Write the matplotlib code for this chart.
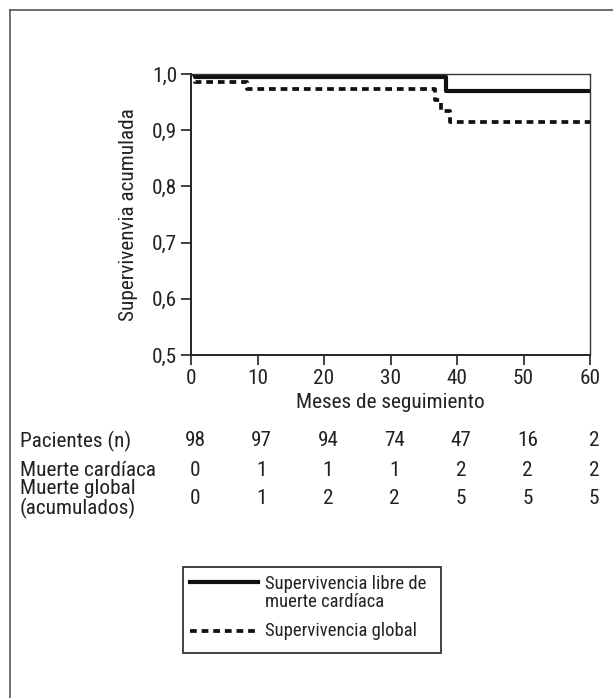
import matplotlib
matplotlib.use("Agg")
import matplotlib.pyplot as plt
from matplotlib.lines import Line2D
from matplotlib.patches import Rectangle
from matplotlib.transforms import blended_transform_factory

plt.rcParams["font.family"] = ["Roboto Condensed", "Liberation Sans Narrow",
                               "Liberation Sans", "DejaVu Sans"]

# Kaplan-Meier curves
cardiac_t = [0, 0.6, 38.4, 60]
cardiac_s = [1.0, 0.995, 0.969, 0.969]
global_t = [0, 0.6, 8.4, 36.7, 37.6, 39.0, 60]
global_s = [1.0, 0.986, 0.974, 0.953, 0.935, 0.914, 0.914]

# table under the x axis
months = [0, 10, 20, 30, 40, 50, 60]
pacientes = [98, 97, 94, 74, 47, 16, 2]
muerte_cardiaca = [0, 1, 1, 1, 2, 2, 2]
muerte_global = [0, 1, 2, 2, 5, 5, 5]

yticks = [0.5, 0.6, 0.7, 0.8, 0.9, 1.0]

W, H = 613, 698
fs = 15.3
fs_leg = 13.4
txt = "#222222"
fig = plt.figure(figsize=(W / 100, H / 100), dpi=100)
ax = fig.add_axes([191 / W, 1 - 355 / H, (590 - 191) / W, (355 - 74) / H])

ax.step(cardiac_t, cardiac_s, where="post", color="#111111", lw=3.0,
        solid_capstyle="butt")
ax.step(global_t, global_s, where="post", color="#111111", lw=2.7,
        linestyle=(0, (1.8, 1.3)))

ax.set_xlim(0, 60)
ax.set_ylim(0.5, 1.0)
ax.set_xticks(months)
ax.set_yticks(yticks)
ax.set_yticklabels([f"{v:.1f}".replace(".", ",") for v in yticks])
ax.tick_params(direction="out", length=7, width=1.2, labelsize=fs,
               colors=txt, pad=3)
for s in ["left", "bottom"]:
    ax.spines[s].set_linewidth(1.4)
    ax.spines[s].set_color("#222222")
for s in ["top", "right"]:
    ax.spines[s].set_linewidth(1.0)
    ax.spines[s].set_color("#333333")

ax.set_xlabel("Meses de seguimiento", fontsize=fs, color=txt, labelpad=4)
ax.set_ylabel("Supervivenvia acumulada", fontsize=fs, color=txt, labelpad=10)

# numbers at risk / events
tr = blended_transform_factory(ax.transData, fig.transFigure)
rows = [(pacientes, 441), (muerte_cardiaca, 470), (muerte_global, 499)]
for vals, ypx in rows:
    for m, v in zip(months, vals):
        ax.text(m + 0.6, 1 - ypx / H, str(v), transform=tr, ha="center",
                va="center", fontsize=fs, color=txt, clip_on=False)

fig.text(20 / W, 1 - 441 / H, "Pacientes (n)", ha="left", va="center",
         fontsize=fs, color=txt)
fig.text(20 / W, 1 - 470 / H, "Muerte cardíaca", ha="left", va="center",
         fontsize=fs, color=txt)
fig.text(20 / W, 1 - 499 / H, "Muerte global\n(acumulados)", ha="left",
         va="center", fontsize=fs, color=txt, linespacing=1.0)

# legend box
fig.add_artist(Rectangle((183 / W, 1 - 653 / H), (441 - 183) / W, (653 - 567) / H,
                         transform=fig.transFigure, fill=False,
                         edgecolor="#333333", lw=1.3))
fig.add_artist(Line2D([190 / W, 258 / W], [1 - 582 / H] * 2, color="#111111",
                      lw=3.0, transform=fig.transFigure))
fig.add_artist(Line2D([190 / W, 258 / W], [1 - 631 / H] * 2, color="#111111",
                      lw=2.7, linestyle=(0, (1.8, 1.3)),
                      transform=fig.transFigure))
fig.text(265 / W, 1 - 593 / H, "Supervivencia libre de\nmuerte cardíaca",
         ha="left", va="center", fontsize=fs_leg, color=txt, linespacing=0.98)
fig.text(265 / W, 1 - 631 / H, "Supervivencia global", ha="left",
         va="center", fontsize=fs_leg, color=txt)

# outer frame (cut by the image edges)
fig.add_artist(Line2D([10 / W, 10 / W], [1 - 10 / H, 0], color="#555555",
                      lw=1.2, transform=fig.transFigure))
fig.add_artist(Line2D([10 / W, 1], [1 - 10 / H, 1 - 10 / H], color="#555555",
                      lw=1.2, transform=fig.transFigure))

fig.savefig("out.png", dpi=100)
